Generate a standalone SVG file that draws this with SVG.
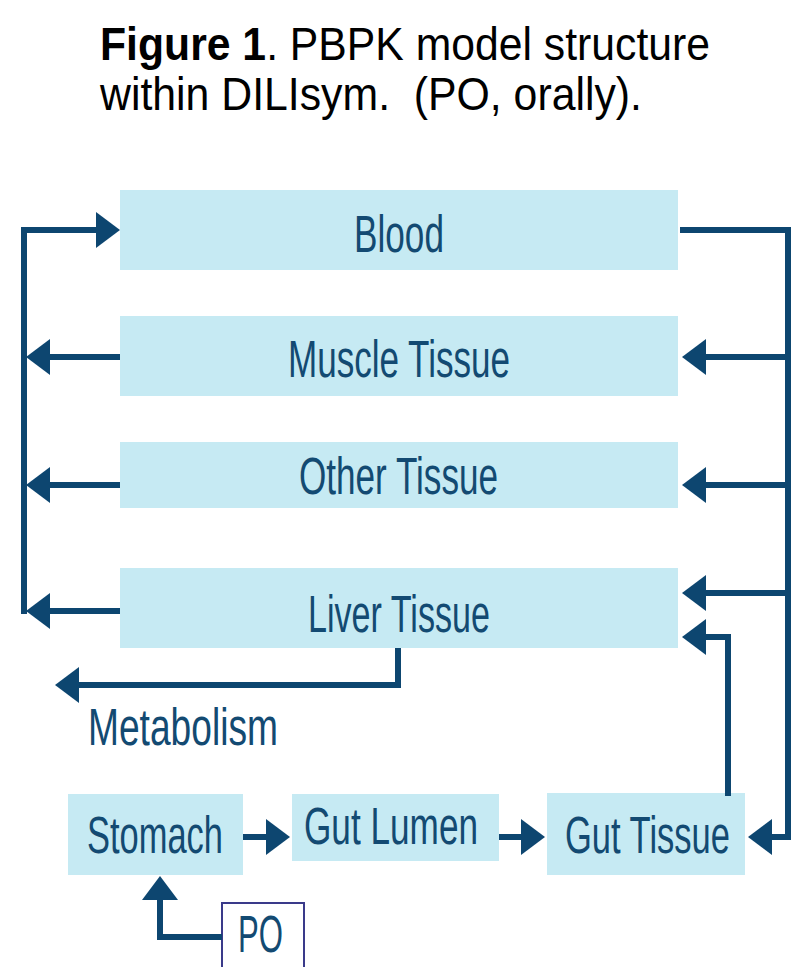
<svg xmlns="http://www.w3.org/2000/svg" width="807" height="967" viewBox="0 0 807 967">
<defs>
<style>
.box{fill:#c6eaf3}
.lbl{font-family:"Liberation Sans",Arial,sans-serif;font-size:51px;fill:#134a72}
.ttl{font-family:"Liberation Sans",Arial,sans-serif;font-size:47px;fill:#000}
.con path{fill:none;stroke:#0d4670;stroke-width:6;stroke-linejoin:miter;marker-end:url(#ah)}
</style>
<marker id="ah" viewBox="0 0 24 36" markerWidth="24" markerHeight="36" refX="10" refY="18" markerUnits="userSpaceOnUse" orient="auto">
<path d="M0,0 L24,18 L0,36 z" fill="#0d4670"/>
</marker>
</defs>
<rect width="807" height="967" fill="#fff"/>
<g id="title">
<text class="ttl" x="100" y="60" textLength="610" lengthAdjust="spacingAndGlyphs"><tspan font-weight="bold">Figure 1</tspan>. PBPK model structure</text>
<text class="ttl" x="100" y="110" textLength="542" lengthAdjust="spacingAndGlyphs" xml:space="preserve">within DILIsym.  (PO, orally).</text>
</g>
<g id="blood"><rect class="box" x="120" y="190" width="558" height="80"/><text class="lbl" x="354" y="252" textLength="90" lengthAdjust="spacingAndGlyphs">Blood</text></g>
<g id="muscle"><rect class="box" x="120" y="316" width="558" height="80"/><text class="lbl" x="288" y="377" textLength="222" lengthAdjust="spacingAndGlyphs">Muscle Tissue</text></g>
<g id="other"><rect class="box" x="120" y="442" width="558" height="66"/><text class="lbl" x="299" y="494" textLength="199" lengthAdjust="spacingAndGlyphs">Other Tissue</text></g>
<g id="liver"><rect class="box" x="120" y="568" width="558" height="80"/><text class="lbl" x="308" y="632" textLength="182" lengthAdjust="spacingAndGlyphs">Liver Tissue</text></g>
<g id="metabolism"><text class="lbl" x="88" y="745" textLength="190" lengthAdjust="spacingAndGlyphs">Metabolism</text></g>
<g id="stomach"><rect class="box" x="68" y="794" width="175" height="81"/><text class="lbl" x="87" y="853" textLength="136" lengthAdjust="spacingAndGlyphs">Stomach</text></g>
<g id="gutlumen"><rect class="box" x="292" y="794" width="207" height="67"/><text class="lbl" x="304" y="844" textLength="174" lengthAdjust="spacingAndGlyphs">Gut Lumen</text></g>
<g id="guttissue"><rect class="box" x="547" y="793" width="198" height="82"/><text class="lbl" x="565" y="853" textLength="165" lengthAdjust="spacingAndGlyphs">Gut Tissue</text></g>
<g id="po"><rect x="222" y="903" width="82" height="70" fill="#fff" stroke="#3a3a8a" stroke-width="2"/><text class="lbl" x="238" y="952" textLength="45" lengthAdjust="spacingAndGlyphs">PO</text></g>
<g id="connectors" class="con">
<path d="M680,230 H788 V837 H762"/>
<path d="M788,357 H696"/>
<path d="M788,485 H696"/>
<path d="M788,593 H696"/>
<path d="M120,357 H40"/>
<path d="M120,485 H40"/>
<path d="M120,611 H40"/>
<path d="M24,614 V230 H106"/>
<path d="M728,796 V637 H696"/>
<path d="M398,648 V685 H69"/>
<path d="M243,837 H276"/>
<path d="M499,837 H531"/>
<path d="M222,937 H160 V890"/>
</g>
</svg>
